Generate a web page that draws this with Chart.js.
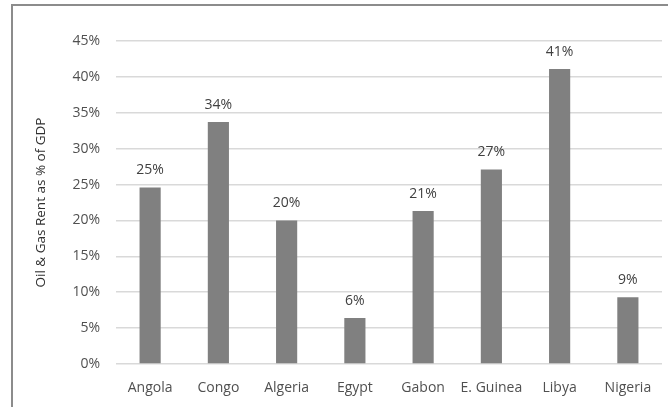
<!DOCTYPE html>
<html>
<head>
<meta charset="utf-8">
<script src="https://cdn.jsdelivr.net/npm/chart.js@4"></script>
<style>
  html, body { margin: 0; padding: 0; background: #fff; }
  #wrap { width: 668px; height: 407px; position: relative; }
</style>
</head>
<body>
<div id="wrap"><canvas id="c" width="668" height="407"></canvas></div>
<script>
// Oil & gas rent as a share of GDP, by country
const countries = ['Angola', 'Congo', 'Algeria', 'Egypt', 'Gabon', 'E. Guinea', 'Libya', 'Nigeria'];
const rentPct = [24.6, 33.7, 20.0, 6.4, 21.3, 27.1, 41.1, 9.3];
const yTicks = [0, 5, 10, 15, 20, 25, 30, 35, 40, 45];

const FONT = "'Open Sans', 'Liberation Sans', sans-serif";
const TEXT = '#505050';

// value labels above each bar
const valueLabels = {
  id: 'valueLabels',
  afterDatasetsDraw(chart) {
    const ctx = chart.ctx;
    const meta = chart.getDatasetMeta(0);
    ctx.save();
    ctx.font = '14px ' + FONT;
    ctx.fillStyle = '#404040';
    ctx.textAlign = 'center';
    ctx.textBaseline = 'middle';
    meta.data.forEach((bar, i) => {
      ctx.fillText(Math.round(rentPct[i]) + '%', bar.x, bar.y - 17);
    });
    ctx.restore();
  }
};

// outer frame of the chart box
const frame = {
  id: 'frame',
  beforeDraw(chart) {
    const ctx = chart.ctx;
    ctx.save();
    ctx.strokeStyle = '#8c8c8c';
    ctx.lineWidth = 2;
    ctx.strokeRect(12, 5, 700, 500);
    ctx.restore();
  }
};

new Chart(document.getElementById('c'), {
  type: 'bar',
  data: {
    labels: countries,
    datasets: [{
      data: rentPct,
      backgroundColor: '#808080',
      borderWidth: 0,
      categoryPercentage: 1,
      barPercentage: 0.31
    }]
  },
  options: {
    responsive: false,
    animation: false,
    events: [],
    layout: { padding: { left: 0, top: 41, right: 6, bottom: 0 } },
    plugins: { legend: { display: false }, tooltip: { enabled: false } },
    scales: {
      x: {
        grid: { display: false, drawTicks: false },
        border: { display: false },
        ticks: { color: TEXT, font: { family: FONT, size: 14 }, padding: 16, maxRotation: 0 },
        afterFit(s) { s.height = 407 - 364; }
      },
      y: {
        min: 0, max: 45,
        afterBuildTicks(s) { s.ticks = yTicks.map(v => ({ value: v })); },
        grid: { color: '#d9d9d9', lineWidth: 1.5, drawTicks: false },
        border: { display: false },
        ticks: {
          color: TEXT, font: { family: FONT, size: 14 }, padding: 16,
          callback: v => v + '%'
        },
        title: {
          display: true,
          text: 'Oil & Gas Rent as % of GDP',
          color: '#303030',
          font: { family: FONT, size: 13.5 },
          padding: { top: 33, bottom: 0 }
        },
        afterFit(s) { s.width = 116; }
      }
    }
  },
  plugins: [frame, valueLabels]
});
</script>
</body>
</html>
